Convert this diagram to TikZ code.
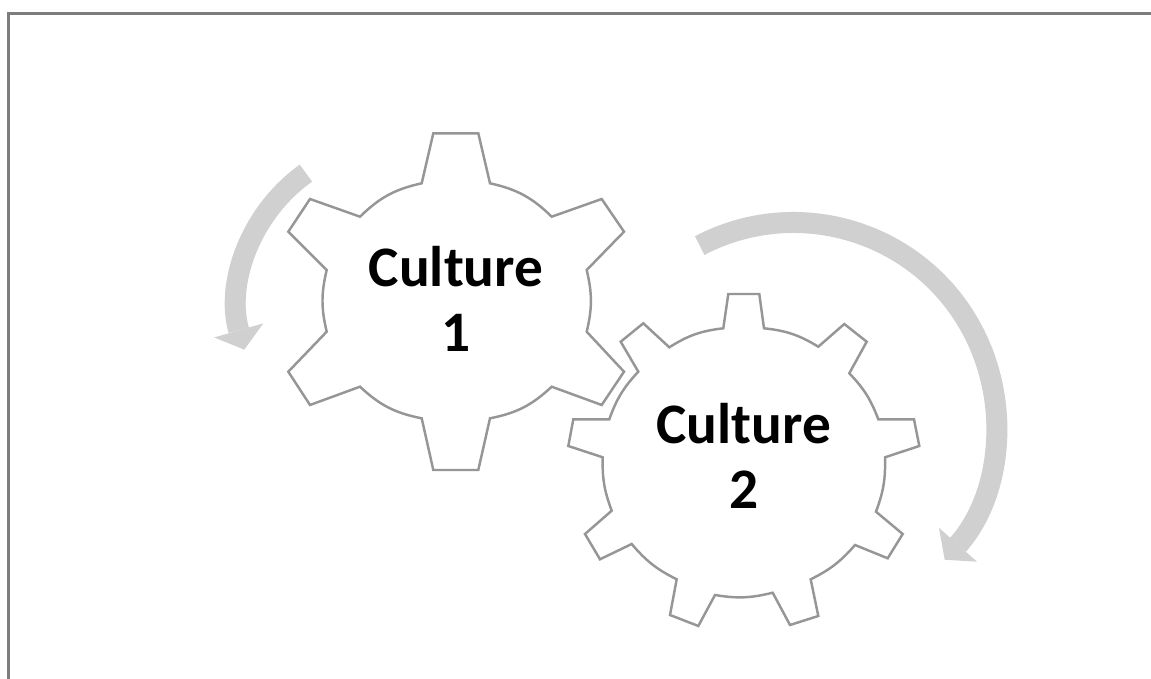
\documentclass[tikz,border=0pt]{standalone}
\usepackage{fontspec}
\setmainfont{Carlito}
\usetikzlibrary{arrows.meta, calc}
\definecolor{frameline}{RGB}{125,125,125}
\definecolor{gearline}{RGB}{150,150,150}
\definecolor{turnfill}{RGB}{208,208,208}

\begin{document}
\begin{tikzpicture}[
  x=0.01cm, y=-0.01cm,
  gear/.style={draw=gearline, fill=white, line width=0.7pt, line join=miter},
  gearname/.style={font=\fontsize{16.3}{18.5}\selectfont\bfseries, align=center, inner sep=0pt},
  turn/.style={draw=turnfill, line width=0.21cm, -{Triangle[length=0.2cm, width=0.51cm, line width=0pt]}},
  pageframe/.style={draw=frameline, line width=0.8pt},
]
\useasboundingbox (0,0) rectangle (1151,679);

% frame (only top and left edge show)
\draw[pageframe] (8.5,679) -- (8.5,13.3) -- (1151,13.3);

% turning arrows
\coordinate (turn1) at (400,305);
\coordinate (turn2) at (793.5,425);
\draw[turn] ($(turn1)+(-125.5:162)$) arc[start angle=-125.5, end angle=-196, radius=162];
\draw[turn] ($(turn2)+(-117.6:202.5)$) arc[start angle=-117.6, end angle=41.7, radius=202.5];

% gear 1 (six teeth)
\draw[gear] (421.7,183.3) -- (433.3,133.3) -- (478.3,133.3) -- (490,183.3)
  to[bend left=16] (551.7,216.7) -- (601.7,199) -- (624,231.7) -- (586.7,270)
  to[bend left=13.5] (586.7,331.7) -- (624,371.7) -- (601.7,405) -- (551.7,386.7)
  to[bend left=16] (490,418.3) -- (478.3,470) -- (433.3,470) -- (421.7,418.3)
  to[bend left=16] (360,386.7) -- (310,405) -- (288.3,371.7) -- (326.7,331.7)
  to[bend left=13.5] (326.7,270) -- (288.3,231.7) -- (310,199) -- (360,216.7)
  to[bend left=16] (421.7,183.3) -- cycle;

% gear 2 (nine teeth)
\draw[gear] (723.3,328.3) -- (728.3,294) -- (759.3,294) -- (764,328.3)
  to[bend left=12.7] (818.3,346.7) -- (844.3,324) -- (866.7,341.7) -- (849.3,373.3)
  to[bend left=11.5] (878.3,419.3) -- (914,419.3) -- (919.3,446) -- (885,457.3)
  to[bend left=11] (876,511.7) -- (902.7,534) -- (887.7,558.3) -- (855,545)
  to[bend left=11.3] (810.7,579.3) -- (818.3,616) -- (790,625) -- (772.7,592.7)
  to[bend left=11.7] (715,595) -- (698.3,626) -- (670,615) -- (676.7,579.3)
  to[bend left=11.6] (631.7,544) -- (600,559.3) -- (585,534) -- (611.7,510.7)
  to[bend left=11] (602.7,457.3) -- (568.3,446) -- (573.3,419.3) -- (609.3,419.3)
  to[bend left=11.7] (638.3,371.7) -- (620.7,341.7) -- (643.3,323.3) -- (669.3,347.3)
  to[bend left=12.8] (723.3,328.3) -- cycle;

% labels
\node[gearname] (culture1) at (456,298.5) {Culture\\1};
\node[gearname] (culture2) at (743.7,455.7) {Culture\\2};

\end{tikzpicture}
\end{document}
